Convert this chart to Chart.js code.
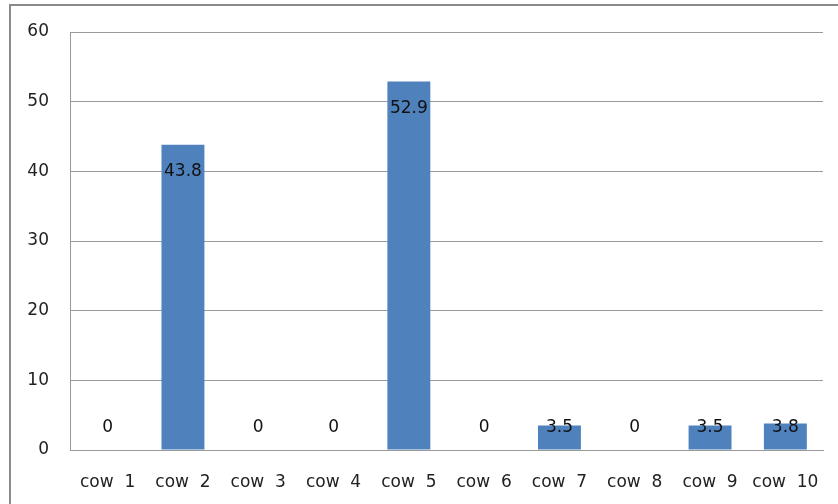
<!DOCTYPE html>
<html>
<head>
<meta charset="utf-8">
<script src="https://cdn.jsdelivr.net/npm/chart.js@4/dist/chart.umd.min.js"></script>
<style>
  html, body { margin: 0; padding: 0; background: #ffffff; }
  #wrap { width: 838px; height: 504px; position: relative; }
</style>
</head>
<body>
<div id="wrap"><canvas id="c" width="838" height="504"></canvas></div>
<script>
// Categories and values per cow
const categories = ['cow  1', 'cow  2', 'cow  3', 'cow  4', 'cow  5', 'cow  6', 'cow  7', 'cow  8', 'cow  9', 'cow  10'];
const values = [0, 43.8, 0, 0, 52.9, 0, 3.5, 0, 3.5, 3.8];
const yTicks = [0, 10, 20, 30, 40, 50, 60];

const FONT = '"DejaVu Sans", sans-serif';
const GRID = '#9a9a9a';

// Outer frame around the chart
const framePlugin = {
  id: 'frame',
  beforeDraw(chart) {
    const ctx = chart.ctx;
    ctx.save();
    ctx.strokeStyle = '#8a8a8a';
    ctx.lineWidth = 2;
    ctx.beginPath();
    ctx.moveTo(10, 520);
    ctx.lineTo(10, 5);
    ctx.lineTo(850, 5);
    ctx.stroke();
    ctx.restore();
  }
};

// Value labels placed just inside the top of each bar
const valueLabels = {
  id: 'valueLabels',
  afterDatasetsDraw(chart) {
    const ctx = chart.ctx;
    const meta = chart.getDatasetMeta(0);
    ctx.save();
    ctx.font = '17px ' + FONT;
    ctx.fillStyle = '#111111';
    ctx.textAlign = 'center';
    ctx.textBaseline = 'middle';
    meta.data.forEach((bar, i) => {
      const y = Math.min(bar.y + 27, bar.base - 22);
      ctx.fillText(String(values[i]), bar.x, y);
    });
    ctx.restore();
  }
};

new Chart(document.getElementById('c'), {
  type: 'bar',
  data: {
    labels: categories,
    datasets: [{
      data: values,
      backgroundColor: '#4f81bd',
      borderWidth: 0,
      barPercentage: 0.57,
      categoryPercentage: 1.0
    }]
  },
  options: {
    responsive: false,
    animation: false,
    devicePixelRatio: 1,
    layout: { padding: { left: 10, top: 32, right: 15, bottom: 0 } },
    plugins: {
      legend: { display: false },
      tooltip: { enabled: false }
    },
    scales: {
      x: {
        grid: { display: false, drawTicks: false },
        border: { display: true, color: GRID, width: 1 },
        ticks: {
          color: '#222222',
          font: { family: FONT, size: 17 },
          padding: 22,
          maxRotation: 0,
          autoSkip: false
        },
        afterFit(scale) {
          scale.height = 54;
          scale.paddingLeft = 0;
          scale.paddingRight = 0;
        }
      },
      y: {
        min: 0,
        max: 60,
        afterBuildTicks(scale) { scale.ticks = yTicks.map(v => ({ value: v })); },
        grid: { color: GRID, drawTicks: false, lineWidth: 1 },
        border: { display: true, color: GRID, width: 1 },
        ticks: {
          color: '#222222',
          font: { family: FONT, size: 17 },
          padding: 21
        },
        afterFit(scale) { scale.width = 60; }
      }
    }
  },
  plugins: [framePlugin, valueLabels]
});
</script>
</body>
</html>
